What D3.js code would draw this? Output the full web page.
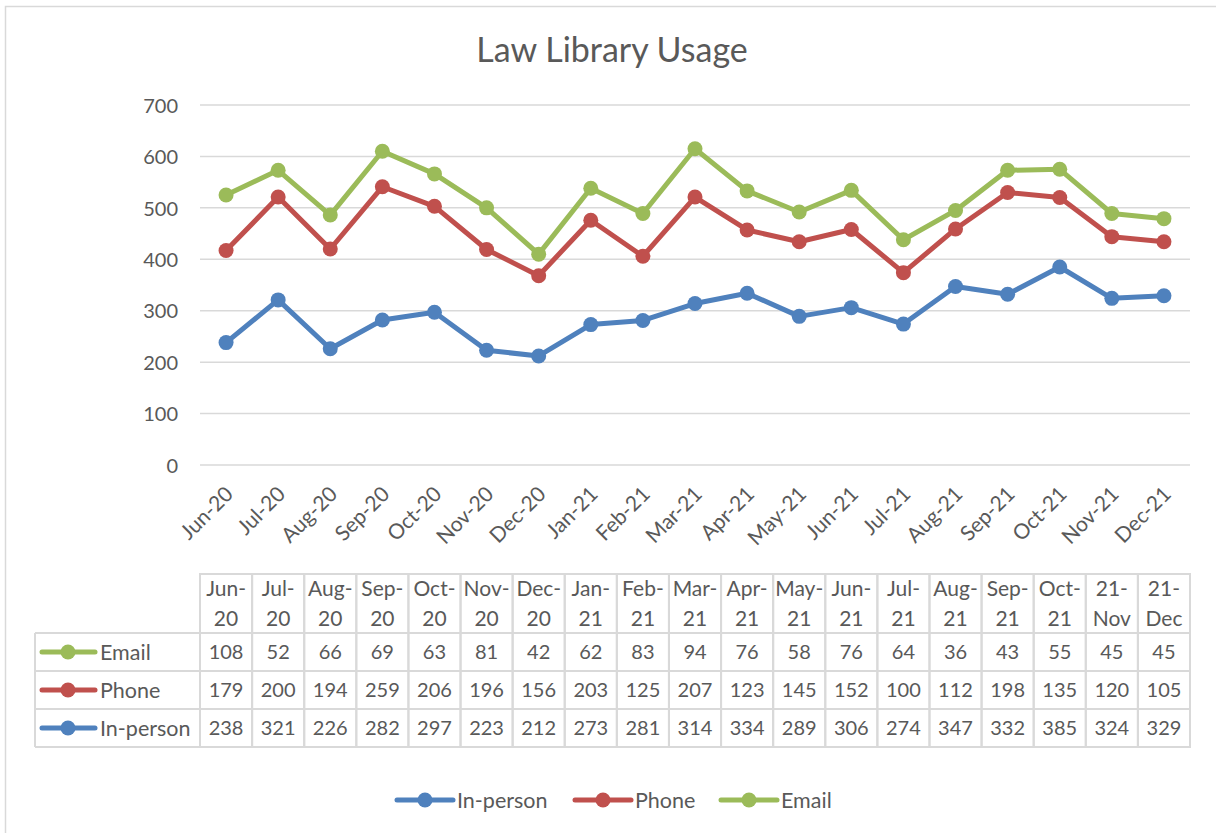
<!DOCTYPE html>
<html>
<head>
<meta charset="utf-8">
<script src="https://cdn.jsdelivr.net/npm/d3@7"></script>
<style>
  body { margin: 0; background: #fff; }
  svg text { font-family: Lato, "Open Sans", sans-serif; fill: #595959; }
</style>
</head>
<body>
<div id="chart"></div>
<script>
// categories (axis labels and table header labels)
const months = ["Jun-20", "Jul-20", "Aug-20", "Sep-20", "Oct-20", "Nov-20", "Dec-20",
    "Jan-21", "Feb-21", "Mar-21", "Apr-21", "May-21", "Jun-21", "Jul-21",
    "Aug-21", "Sep-21", "Oct-21", "Nov-21", "Dec-21"];
const tableHeaders = [["Jun-", "20"], ["Jul-", "20"], ["Aug-", "20"], ["Sep-", "20"], ["Oct-", "20"],
    ["Nov-", "20"], ["Dec-", "20"], ["Jan-", "21"], ["Feb-", "21"], ["Mar-", "21"], ["Apr-", "21"],
    ["May-", "21"], ["Jun-", "21"], ["Jul-", "21"], ["Aug-", "21"], ["Sep-", "21"], ["Oct-", "21"],
    ["21-", "Nov"], ["21-", "Dec"]];

// series values (stacked: In-person, then Phone, then Email)
const inPerson = [238, 321, 226, 282, 297, 223, 212, 273, 281, 314, 334, 289, 306, 274, 347, 332, 385, 324, 329];
const phone = [179, 200, 194, 259, 206, 196, 156, 203, 125, 207, 123, 145, 152, 100, 112, 198, 135, 120, 105];
const email = [108, 52, 66, 69, 63, 81, 42, 62, 83, 94, 76, 58, 76, 64, 36, 43, 55, 45, 45];

const yTicks = [0, 100, 200, 300, 400, 500, 600, 700];

const width = 1216, height = 833;
const plotLeft = 200, plotRight = 1190, plotTop = 105, plotBottom = 465;

const series = [
    { name: "In-person", values: inPerson, color: "#4F81BD" },
    { name: "Phone", values: phone, color: "#C0504D" },
    { name: "Email", values: email, color: "#9BBB59" }
];

// stacked totals
const rows = months.map((m, i) => ({ month: m, "In-person": inPerson[i], "Phone": phone[i], "Email": email[i] }));
const stacked = d3.stack().keys(series.map(s => s.name))(rows);

const svg = d3.select("#chart")
    .append("svg")
    .attr("width", width)
    .attr("height", height);

// chart border
svg.append("rect")
    .attr("x", 5.5).attr("y", 6.5)
    .attr("width", width + 10).attr("height", height + 10)
    .attr("fill", "none")
    .attr("stroke", "#D9D9D9")
    .attr("stroke-width", 1.5);

const x = d3.scaleBand().domain(months).range([plotLeft, plotRight]);
const y = d3.scaleLinear().domain([0, 700]).range([plotBottom, plotTop]);

// title
svg.append("text")
    .attr("x", 612).attr("y", 62)
    .attr("text-anchor", "middle")
    .style("font-size", "34px")
    .text("Law Library Usage");

// gridlines
svg.append("g")
    .selectAll("line")
    .data(yTicks)
    .join("line")
    .attr("x1", plotLeft).attr("x2", plotRight)
    .attr("y1", d => y(d)).attr("y2", d => y(d))
    .attr("stroke", "#D9D9D9")
    .attr("stroke-width", 1.5);

// y axis labels
const yAxis = svg.append("g")
    .attr("transform", `translate(${plotLeft - 22},0)`)
    .call(d3.axisLeft(y).tickValues(yTicks).tickSize(0).tickPadding(0));
yAxis.select(".domain").remove();
yAxis.selectAll("text")
    .attr("dy", "0.36em")
    .style("font-size", "20px")
    .style("font-family", "Lato, sans-serif")
    .attr("fill", "#595959");

// x labels rotated
svg.append("g")
    .selectAll("text")
    .data(months)
    .join("text")
    .attr("transform", d => `translate(${x(d) + x.bandwidth() / 2 - 2},${plotBottom + 20}) rotate(-45)`)
    .attr("text-anchor", "end")
    .attr("dy", "0.7em")
    .style("font-size", "21px")
    .text(d => d);

// lines and markers
const line = d3.line()
    .x((d, i) => x(months[i]) + x.bandwidth() / 2)
    .y(d => y(d[1]));

stacked.forEach((layer, k) => {
    const color = series[k].color;
    svg.append("path")
        .datum(layer)
        .attr("d", line)
        .attr("fill", "none")
        .attr("stroke", color)
        .attr("stroke-width", 5)
        .attr("stroke-linejoin", "round")
        .attr("stroke-linecap", "round");
    svg.append("g")
        .selectAll("circle")
        .data(layer)
        .join("circle")
        .attr("cx", (d, i) => x(months[i]) + x.bandwidth() / 2)
        .attr("cy", d => y(d[1]))
        .attr("r", 7.5)
        .attr("fill", color);
});

// data table
const tTop = 574, headH = 59, rowH = 38, labelLeft = 35;
const tableRows = [series[2], series[1], series[0]];
const grid = svg.append("g").attr("stroke", "#D9D9D9").attr("stroke-width", 2).attr("fill", "none");
const tBottom = tTop + headH + rowH * tableRows.length;

// header cells
months.forEach(m => {
    grid.append("rect")
        .attr("x", x(m)).attr("y", tTop)
        .attr("width", x.bandwidth()).attr("height", tBottom - tTop);
});
// horizontal lines across rows
d3.range(tableRows.length + 1).forEach(r => {
    const yy = tTop + headH + r * rowH;
    grid.append("line")
        .attr("x1", labelLeft).attr("x2", plotRight)
        .attr("y1", yy).attr("y2", yy);
});
grid.append("line")
    .attr("x1", labelLeft).attr("x2", labelLeft)
    .attr("y1", tTop + headH).attr("y2", tBottom);

// header text
svg.append("g")
    .selectAll("text")
    .data(tableHeaders)
    .join("text")
    .attr("x", (d, i) => x(months[i]) + x.bandwidth() / 2)
    .attr("y", tTop + 22)
    .attr("text-anchor", "middle")
    .style("font-size", "21px")
    .each(function (d) {
        d3.select(this).append("tspan").attr("x", d3.select(this).attr("x")).attr("dy", 0).text(d[0]);
        d3.select(this).append("tspan").attr("x", d3.select(this).attr("x")).attr("dy", 30).text(d[1]);
    });

tableRows.forEach((s, r) => {
    const cy = tTop + headH + r * rowH + rowH / 2;
    const g = svg.append("g");
    // legend key
    g.append("line")
        .attr("x1", 42).attr("x2", 95)
        .attr("y1", cy).attr("y2", cy)
        .attr("stroke", s.color).attr("stroke-width", 5).attr("stroke-linecap", "round");
    g.append("circle").attr("cx", 68).attr("cy", cy).attr("r", 7.5).attr("fill", s.color);
    g.append("text")
        .attr("x", 100).attr("y", cy).attr("dy", "0.36em")
        .style("font-size", "21.5px")
        .text(s.name);
    g.selectAll("text.val")
        .data(s.values)
        .join("text")
        .attr("class", "val")
        .attr("x", (d, i) => x(months[i]) + x.bandwidth() / 2)
        .attr("y", cy).attr("dy", "0.36em")
        .attr("text-anchor", "middle")
        .style("font-size", "20px")
        .text(d => d);
});

// legend
const legendPos = [397, 575, 721];
series.forEach((s, i) => {
    const lx = legendPos[i], ly = 800;
    svg.append("line")
        .attr("x1", lx).attr("x2", lx + 56)
        .attr("y1", ly).attr("y2", ly)
        .attr("stroke", s.color).attr("stroke-width", 5).attr("stroke-linecap", "round");
    svg.append("circle").attr("cx", lx + 28).attr("cy", ly).attr("r", 7.5).attr("fill", s.color);
    svg.append("text")
        .attr("x", lx + 60).attr("y", ly).attr("dy", "0.36em")
        .style("font-size", "21.5px")
        .text(s.name);
});
</script>
</body>
</html>
